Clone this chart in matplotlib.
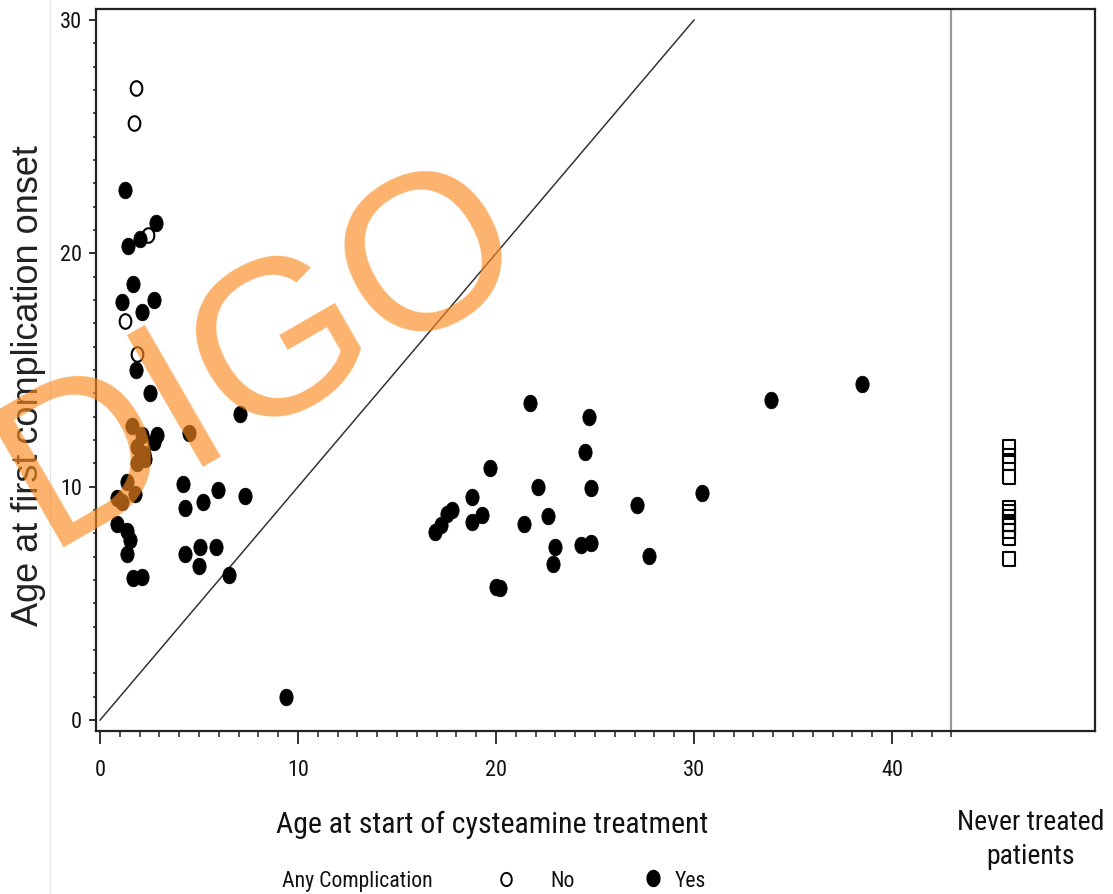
import numpy as np
import matplotlib
matplotlib.use("Agg")
import matplotlib.pyplot as plt
from matplotlib import font_manager
from matplotlib.lines import Line2D
from matplotlib.ticker import FixedLocator

# values
# treated patients without any complication (open circles)
no_x = [1.8, 1.7, 2.4, 1.25, 1.85]
no_y = [27.1, 25.6, 20.8, 17.1, 15.7]

# treated patients with a complication (filled dots)
yes_x = [1.26, 2.83, 1.41, 2.02, 1.68, 1.10, 2.73, 2.10, 1.82, 2.50,
         7.07, 1.60, 4.50, 2.10, 2.90, 2.70, 1.85, 2.20, 1.85, 2.27,
         1.35, 4.20, 5.97, 7.30, 1.77, 1.10, 0.85, 4.30, 5.20, 0.86,
         1.35, 1.50, 1.35, 4.30, 5.05, 5.86, 5.00, 1.65, 2.10, 6.50,
         9.40,
         21.7, 24.7, 33.9, 38.5, 24.5, 19.7, 22.1, 24.8, 30.4, 18.8,
         27.1, 17.8, 17.5, 19.3, 18.8, 22.6, 21.4, 17.2, 16.9, 23.0,
         24.3, 24.8, 27.7, 22.9, 20.0, 20.2]
yes_y = [22.7, 21.3, 20.3, 20.6, 18.7, 17.9, 18.0, 17.5, 15.0, 14.0,
         13.1, 12.6, 12.3, 12.2, 12.2, 11.9, 11.7, 11.4, 11.0, 11.2,
         10.2, 10.1, 9.86, 9.6, 9.7, 9.35, 9.5, 9.1, 9.35, 8.4,
         8.1, 7.7, 7.1, 7.1, 7.4, 7.4, 6.6, 6.1, 6.15, 6.2,
         1.0,
         13.6, 13.0, 13.7, 14.4, 11.5, 10.8, 10.0, 9.95, 9.73, 9.57,
         9.2, 9.0, 8.85, 8.8, 8.5, 8.75, 8.4, 8.35, 8.05, 7.4,
         7.5, 7.6, 7.05, 6.7, 5.7, 5.65]

# never treated patients, drawn in a separate column
never_x = 45.9
never_y = [11.7, 11.3, 11.0, 10.4, 9.1, 8.9, 8.7, 8.4, 8.4, 8.1, 7.8, 6.9]

diag = [0, 30]
split_x = 43
x_major = [0, 10, 20, 30, 40]
y_major = [0, 10, 20, 30]

# narrow font for the squeezed labels, if there is one
entries = font_manager.fontManager.ttflist
narrow_family, narrow_stretch, k = "Liberation Sans", "normal", 0.84
for name in ["Liberation Sans Narrow", "Arial Narrow", "Roboto Condensed", "Open Sans Condensed"]:
    if any(f.name == name for f in entries):
        narrow_family, narrow_stretch, k = name, "normal", 1.0
        break
else:
    if any(f.name == "DejaVu Sans" and f.stretch == "condensed" for f in entries):
        narrow_family, narrow_stretch, k = "DejaVu Sans", "condensed", 0.88

nfont = dict(family=narrow_family, stretch=narrow_stretch)

# marker shapes (the picture is a bit stretched vertically)
t = np.linspace(0, 2 * np.pi, 48)
oval = list(zip(0.8 * np.cos(t), np.sin(t)))
box = [(-0.87, -1), (0.87, -1), (0.87, 1), (-0.87, 1), (-0.87, -1)]

fig = plt.figure(figsize=(11.13, 8.94), dpi=100)
ax = fig.add_axes([0.086, 0.1823, 0.8978, 0.8076])

ax.plot(diag, diag, color="#333333", lw=1.1, zorder=1)
ax.axvline(split_x, color="#9a9a9a", lw=1.6, zorder=1)

ax.plot(no_x, no_y, ls="none", marker=oval, ms=10.5, mfc="none", mec="black", mew=1.5, zorder=3)
ax.plot(yes_x, yes_y, ls="none", marker=oval, ms=12, mfc="black", mec="black", mew=0.5, zorder=3)
ax.plot([never_x] * len(never_y), never_y, ls="none", marker=box, ms=10, mfc="none",
        mec="black", mew=1.5, zorder=3)

ax.set_xlim(-0.22, 50.25)
ax.set_ylim(-0.47, 30.47)

ax.xaxis.set_major_locator(FixedLocator(x_major))
ax.xaxis.set_minor_locator(FixedLocator(list(range(0, split_x + 1))))
ax.yaxis.set_major_locator(FixedLocator(y_major))
ax.yaxis.set_minor_locator(FixedLocator(list(range(0, 31))))

ax.tick_params(axis="x", which="major", length=9, width=1.3, pad=12, color="#222222")
ax.tick_params(axis="x", which="minor", length=4, width=1.1, color="#222222")
ax.tick_params(axis="y", which="major", length=5, width=1.3, pad=5, color="#222222")
ax.tick_params(axis="y", which="minor", length=2.5, width=1.1, color="#222222")

for lab in ax.get_xticklabels() + ax.get_yticklabels():
    lab.set_fontfamily(narrow_family)
    lab.set_fontstretch(narrow_stretch)
    lab.set_fontsize(16 * k)
    lab.set_color("#111111")

for s in ax.spines.values():
    s.set_color("#222222")
    s.set_linewidth(1.6)

def fx(px):
    return px / 1113

def fy(py):
    return 1 - py / 894

# faint line at the left edge of the original picture
fig.add_artist(Line2D([fx(50), fx(50)], [0, 1], color="#e8e8e8", lw=1))

fig.text(fx(29), fy(386), "Age at first complication onset", rotation=90, ha="center",
         va="center", fontsize=26, family="Liberation Sans", color="#222222")
fig.text(fx(492), fy(833), "Age at start of cysteamine treatment", ha="center", va="baseline",
         fontsize=21.5 * k, color="#111111", **nfont)
fig.text(fx(1031), fy(830), "Never treated", ha="center", va="baseline",
         fontsize=20 * k, color="#111111", **nfont)
fig.text(fx(1031), fy(864), "patients", ha="center", va="baseline",
         fontsize=20 * k, color="#111111", **nfont)

# legend row at the bottom
fig.text(fx(282), fy(887), "Any Complication", ha="left", va="baseline",
         fontsize=15.7 * k, color="#111111", **nfont)
fig.add_artist(Line2D([fx(506)], [fy(879)], ls="none", marker=oval, ms=9.5, mfc="none",
                      mec="black", mew=1.4))
fig.text(fx(550), fy(887), "No", ha="left", va="baseline", fontsize=15.7 * k,
         color="#111111", **nfont)
fig.add_artist(Line2D([fx(653)], [fy(878)], ls="none", marker=oval, ms=11.5, mfc="black",
                      mec="black"))
fig.text(fx(675), fy(887), "Yes", ha="left", va="baseline", fontsize=15.7 * k,
         color="#111111", **nfont)

# watermark over the plot
fig.text(fx(290), fy(406), "DIGO", rotation=30, rotation_mode="anchor", ha="center",
         va="baseline", fontsize=159, family="Liberation Sans", color="#F98A1F",
         alpha=0.65, zorder=10)

fig.savefig("out.png", dpi=100)
